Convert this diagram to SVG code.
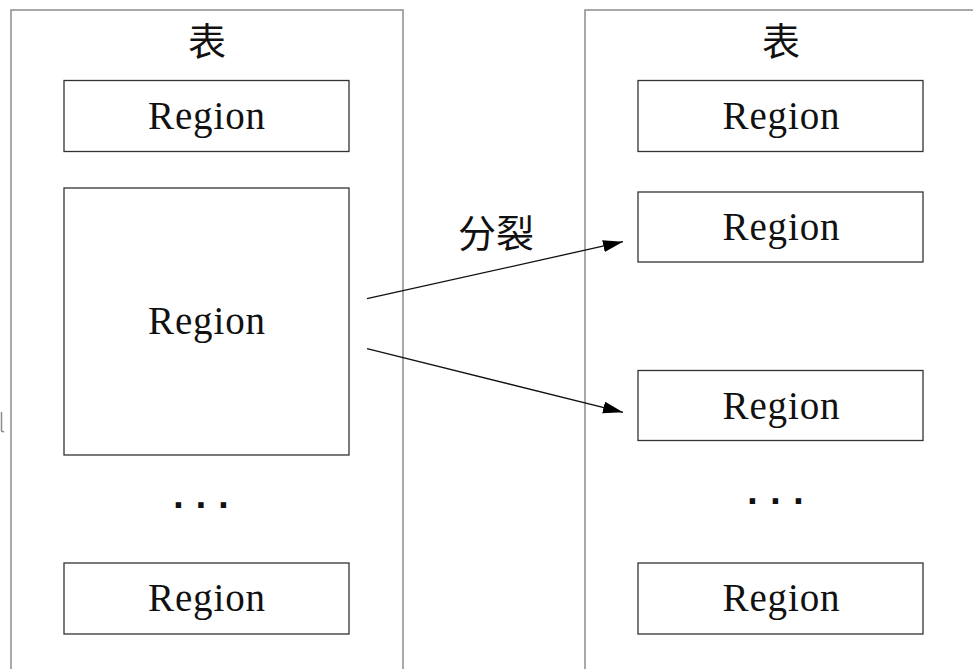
<svg xmlns="http://www.w3.org/2000/svg" width="973" height="669" viewBox="0 0 973 669">
<style>
.bg{fill:#ffffff}
.table{fill:none;stroke:#8c8c8c;stroke-width:1.5}
.region{fill:#ffffff;stroke:#333333;stroke-width:1.3}
.lbl{font-family:"Liberation Serif","Noto Sans CJK SC",serif;font-size:39px;fill:#111111;text-anchor:middle}
.cjk{font-family:"Noto Sans CJK SC","Noto Sans CJK JP",sans-serif;font-size:38px;fill:#111111;text-anchor:middle}
.dots{font-family:"Liberation Mono",monospace;font-size:38px;font-weight:bold;fill:#111111}
.conn{stroke:#111111;stroke-width:1.3;fill:none}
</style>
<defs>
<marker id="arrow" markerUnits="userSpaceOnUse" markerWidth="21" markerHeight="13" refX="20" refY="6" orient="auto">
<path d="M0,0 L20,6 L0,12 z" fill="#000000"/>
</marker>
</defs>
<rect class="bg" x="0" y="0" width="973" height="669"/>
<path d="M1.5,412 L1.5,431 L4,432" stroke="#8c8c8c" stroke-width="1.5" fill="none"/>
<g id="table-left">
<rect class="table" x="11" y="10" width="392" height="720"/>
<text class="cjk" x="207" y="55">表</text>
</g>
<g id="table-right">
<rect class="table" x="585" y="10" width="420" height="720"/>
<text class="cjk" x="781" y="55">表</text>
</g>
<g id="left-region-1">
<rect class="region" x="64" y="80.5" width="285" height="71"/>
<text class="lbl" x="206.5" y="128.5" textLength="117" lengthAdjust="spacing">Region</text>
</g>
<g id="left-region-2">
<rect class="region" x="64" y="188" width="285" height="267"/>
<text class="lbl" x="206.5" y="333.5" textLength="117" lengthAdjust="spacing">Region</text>
</g>
<g id="left-ellipsis">
<text class="dots" x="167 189.5 212" y="508">...</text>
</g>
<g id="left-region-3">
<rect class="region" x="64" y="563" width="285" height="71"/>
<text class="lbl" x="206.5" y="611" textLength="117" lengthAdjust="spacing">Region</text>
</g>
<g id="right-region-1">
<rect class="region" x="638" y="80.5" width="285" height="71"/>
<text class="lbl" x="781" y="128.5" textLength="117" lengthAdjust="spacing">Region</text>
</g>
<g id="right-region-2">
<rect class="region" x="638" y="192" width="285" height="70"/>
<text class="lbl" x="781" y="240" textLength="117" lengthAdjust="spacing">Region</text>
</g>
<g id="right-region-3">
<rect class="region" x="638" y="370.5" width="285" height="70"/>
<text class="lbl" x="781" y="418.5" textLength="117" lengthAdjust="spacing">Region</text>
</g>
<g id="right-ellipsis">
<text class="dots" x="741 764 787" y="504">...</text>
</g>
<g id="right-region-4">
<rect class="region" x="638" y="563" width="285" height="71"/>
<text class="lbl" x="781" y="611" textLength="117" lengthAdjust="spacing">Region</text>
</g>
<g id="connectors">
<line class="conn" x1="367" y1="298.7" x2="623" y2="241.7" marker-end="url(#arrow)"/>
<line class="conn" x1="367" y1="348.7" x2="623" y2="412.3" marker-end="url(#arrow)"/>
<text class="cjk" x="496" y="247">分裂</text>
</g>
</svg>
